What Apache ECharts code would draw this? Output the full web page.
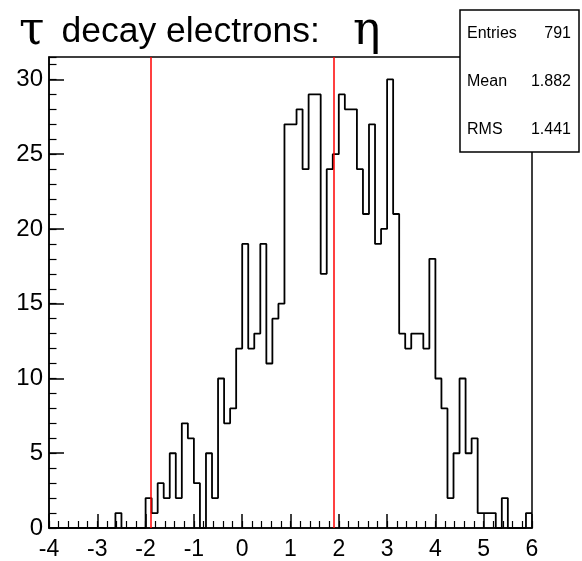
<!DOCTYPE html>
<html><head><meta charset="utf-8">
<script src="https://cdn.jsdelivr.net/npm/echarts@6/dist/echarts.min.js"></script>
<style>html,body{margin:0;padding:0;background:#fff}#c{width:582px;height:561px}</style>
</head><body><div id="c"></div>
<script>
// ---- data ----
const binLow = -4;
const binWidth = 0.125;
const counts = [
  0,0,0,0,0,0,0,0,0,0,
  0,1,0,0,0,0,2,1,3,2,
  5,2,7,6,3,0,5,2,10,7,
  8,12,19,12,13,19,11,14,15,27,
  27,28,24,29,29,17,24,25,29,28,
  28,24,21,27,19,20,30,21,13,12,
  13,13,12,18,10,8,2,5,10,5,
  6,1,1,1,0,2,0,0,0,1
];
const cutLines = [-1.9, 1.9];
const xRange = [-4, 6];
const yRange = [0, 31.5];
const statNames = ['Entries', 'Mean', 'RMS'];
const statValues = ['791', '1.882', '1.441'];
const titleMain = 'decay electrons:';
const titleGreek = ['τ', 'η'];

// ---- build ----
const histData = counts.map((v, i) => [binLow + i * binWidth, v]);
histData.push([binLow + counts.length * binWidth, counts[counts.length - 1]]);

const chart = echarts.init(document.getElementById('c'), null, {renderer: 'canvas'});
const FONT = '"Liberation Sans", Arial, Helvetica, sans-serif';
const GFONT = '"DejaVu Serif", "Liberation Serif", serif';

const statGraphics = [{
  type: 'rect', z: 100,
  shape: {x: 460, y: 10, width: 119, height: 142},
  style: {fill: '#fff', stroke: '#000', lineWidth: 1.5}
}];
const rowY = [33.5, 82, 129.5];
statNames.forEach((n, i) => {
  statGraphics.push({type: 'text', z: 101, style: {text: n, x: 467, y: rowY[i], fill: '#000',
    font: '16px ' + FONT, textAlign: 'left', verticalAlign: 'middle', textVerticalAlign: 'middle'}});
  statGraphics.push({type: 'text', z: 101, style: {text: statValues[i], x: 571, y: rowY[i], fill: '#000',
    font: '16px ' + FONT, textAlign: 'right', verticalAlign: 'middle', textVerticalAlign: 'middle'}});
});

chart.setOption({
  animation: false,
  backgroundColor: '#fff',
  title: {
    left: 14, top: 4,
    text: '{g|' + titleGreek[0] + '}{m|' + titleMain + '}{g2|' + titleGreek[1] + '}',
    textStyle: {
      fontWeight: 'normal',
      rich: {
        m: {fontFamily: FONT, fontSize: 35.5, fontWeight: 'normal', color: '#000', padding: [0, 0, 0, 17]},
        g: {fontFamily: GFONT, fontSize: 46, fontWeight: 'normal', color: '#000'},
        g2: {fontFamily: GFONT, fontSize: 46, fontWeight: 'normal', color: '#000', padding: [0, 0, 0, 33]}
      }
    }
  },
  grid: {left: 49, right: 50, top: 57, bottom: 32, show: true, borderColor: '#000', borderWidth: 1.5, backgroundColor: 'transparent'},
  xAxis: [{
    type: 'value', min: xRange[0], max: xRange[1], interval: 1,
    axisLine: {onZero: false, lineStyle: {color: '#000', width: 1.5}},
    axisTick: {inside: true, length: 14, lineStyle: {color: '#000', width: 1.5}},
    axisLabel: {fontFamily: FONT, fontSize: 23, color: '#000', margin: 10},
    splitLine: {show: false}
  }, {
    type: 'value', min: xRange[0], max: xRange[1], interval: 0.2, position: 'bottom',
    axisLine: {show: false, onZero: false},
    axisTick: {inside: true, length: 7, lineStyle: {color: '#000', width: 1.2}},
    axisLabel: {show: false},
    splitLine: {show: false}
  }],
  yAxis: [{
    type: 'value', min: yRange[0], max: yRange[1], interval: 5, position: 'left',
    axisLine: {onZero: false, lineStyle: {color: '#000', width: 1.5}},
    axisTick: {inside: true, length: 15, lineStyle: {color: '#000', width: 1.5}},
    axisLabel: {fontFamily: FONT, fontSize: 24, color: '#000', margin: 6, showMaxLabel: false},
    splitLine: {show: false}
  }, {
    type: 'value', min: yRange[0], max: yRange[1], interval: 1, position: 'left',
    axisLine: {show: false, onZero: false},
    axisTick: {inside: true, length: 7.5, lineStyle: {color: '#000', width: 1.2}},
    axisLabel: {show: false},
    splitLine: {show: false}
  }],
  series: [{
    type: 'line', step: 'end', xAxisIndex: 0, yAxisIndex: 0,
    data: histData, showSymbol: false, symbol: 'none',
    lineStyle: {color: '#000', width: 1.8},
    z: 3,
    markLine: {
      silent: true, symbol: ['none', 'none'],
      label: {show: false},
      lineStyle: {color: '#ff0000', width: 1.5, type: 'solid'},
      data: cutLines.map(v => ({xAxis: v}))
    }
  }],
  graphic: statGraphics
});
</script>
</body></html>
